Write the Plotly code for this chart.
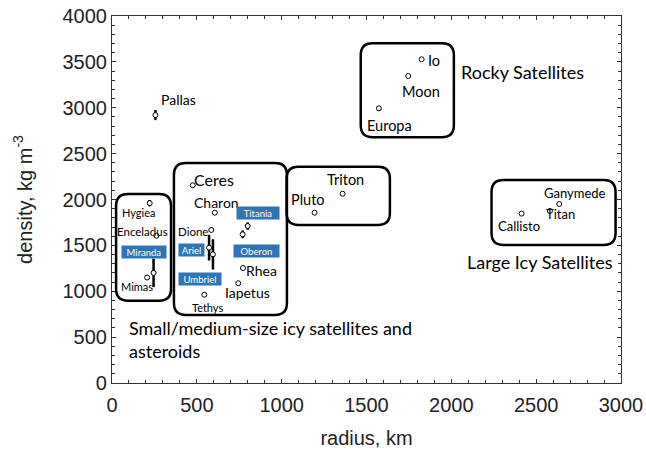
import plotly.graph_objects as go

# Bodies: mean radius (km), bulk density (kg m^-3), density uncertainty
names = ["Pallas", "Hygiea", "Enceladus", "Mimas", "Miranda",
         "Ceres", "Charon", "Dione", "Ariel", "Umbriel", "Titania", "Oberon",
         "Rhea", "Iapetus", "Tethys",
         "Triton", "Pluto",
         "Io", "Moon", "Europa",
         "Ganymede", "Titan", "Callisto"]
radius = [256, 222, 262, 207, 245,
          476, 606, 585, 572, 595, 800, 770,
          772, 744, 544,
          1359, 1194,
          1825, 1746, 1573,
          2636, 2581, 2414]
density = [2920, 1960, 1605, 1150, 1200,
           2155, 1856, 1668, 1475, 1402, 1711, 1620,
           1253, 1087, 962,
           2063, 1856,
           3528, 3346, 2994,
           1951, 1875, 1846]
density_err = [55, 35, 0, 0, 155,
               0, 0, 0, 140, 165, 40, 42,
               0, 0, 0,
               0, 0,
               0, 0, 0,
               0, 0, 0]

# Group outlines: (r_min, r_max, rho_min, rho_max)
group_boxes = [
    (24, 348, 897, 2060),
    (365, 1031, 741, 2398),
    (1029, 1638, 1722, 2357),
    (1466, 2015, 2678, 3702),
    (2237, 2968, 1504, 2213),
]

# Plain text labels: (text, r, rho, size)
text_labels = [
    ("Pallas", 389, 3085, 14),
    ("Hygiea", 159, 1853, 11),
    ("Enceladus", 177, 1646, 11.5),
    ("Mimas", 147, 1057, 11),
    ("Ceres", 601, 2213, 16),
    ("Charon", 613, 1962, 14),
    ("Dione", 477, 1646, 11.5),
    ("Rhea", 884, 1221, 14),
    ("Iapetus", 796, 981, 14),
    ("Tethys", 560, 828, 11),
    ("Triton", 1379, 2223, 14.5),
    ("Pluto", 1155, 2005, 14.5),
    ("Io", 1897, 3520, 14.5),
    ("Moon", 1821, 3172, 14.5),
    ("Europa", 1638, 2812, 14.5),
    ("Ganymede", 2728, 2071, 13),
    ("Titan", 2646, 1842, 13),
    ("Callisto", 2398, 1711, 13),
]

# Highlighted labels (white text on blue): (text, r, rho, box width px)
tag_labels = [
    ("Miranda", 189, 1428, 42),
    ("Titania", 860, 1853, 40),
    ("Ariel", 471, 1450, 23),
    ("Oberon", 854, 1439, 43),
    ("Umbriel", 519, 1134, 40),
]

# Group captions: (text, r, rho, anchor)
group_captions = [
    ("Rocky Satellites", 2045, 3390, "left"),
    ("Large Icy Satellites", 2522, 1319, "center"),
    ("Small/medium-size icy satellites and<br>asteroids", 88, 469, "left"),
]

LABEL_FONT = "Lato"
BLUE = "#2E75B6"

fig = go.Figure()

fig.add_trace(go.Scatter(
    x=radius, y=density, mode="markers",
    marker=dict(symbol="circle", size=5, color="white",
                line=dict(color="black", width=1)),
    error_y=dict(type="data", array=density_err, visible=True,
                 color="black", thickness=2.5, width=0),
    hovertext=names, showlegend=False,
))


def rounded_box(x0, x1, y0, y1, rx=70, ry=130):
    return (f"M {x0 + rx},{y0} L {x1 - rx},{y0} Q {x1},{y0} {x1},{y0 + ry} "
            f"L {x1},{y1 - ry} Q {x1},{y1} {x1 - rx},{y1} "
            f"L {x0 + rx},{y1} Q {x0},{y1} {x0},{y1 - ry} "
            f"L {x0},{y0 + ry} Q {x0},{y0} {x0 + rx},{y0} Z")


for (x0, x1, y0, y1) in group_boxes:
    fig.add_shape(type="path", path=rounded_box(x0, x1, y0, y1),
                  xref="x", yref="y", line=dict(color="black", width=2.5),
                  fillcolor="rgba(0,0,0,0)", layer="above")

for text, x, y, size in text_labels:
    fig.add_annotation(x=x, y=y, text=text, showarrow=False,
                       font=dict(family=LABEL_FONT, size=size, color="black"),
                       xanchor="center", yanchor="middle")

for text, x, y, w in tag_labels:
    fig.add_annotation(x=x, y=y, text=text, showarrow=False,
                       font=dict(family=LABEL_FONT, size=9.5, color="white"),
                       bgcolor=BLUE, borderpad=1, width=w, height=10,
                       xanchor="center", yanchor="middle")

for text, x, y, anchor in group_captions:
    fig.add_annotation(x=x, y=y, text=text, showarrow=False, align="left",
                       font=dict(family=LABEL_FONT, size=18, color="black"),
                       xanchor=anchor, yanchor="middle")

axis_common = dict(
    showgrid=False, zeroline=False, showline=True, linecolor="#333",
    linewidth=1.2, mirror="allticks", ticks="inside", ticklen=4,
    tickcolor="#333", tickwidth=1, automargin=False,
    tickfont=dict(family="Liberation Sans", size=20, color="#222"),
    minor=dict(ticks="inside", ticklen=2.5, tickcolor="#333", dtick=100,
               showgrid=False),
)

fig.update_xaxes(range=[0, 3000], dtick=500, ticklabelstandoff=4,
                 title=dict(text="radius, km", standoff=15,
                            font=dict(family="Liberation Sans", size=20, color="#222")),
                 **axis_common)
fig.update_yaxes(range=[0, 4000], dtick=500,
                 title=dict(text="density, kg m<sup>-3</sup>", standoff=24,
                            font=dict(family="Liberation Sans", size=20, color="#222")),
                 **axis_common)

fig.update_layout(
    width=646, height=450,
    margin=dict(l=112, r=25, t=16, b=67),
    plot_bgcolor="white", paper_bgcolor="white",
)

fig.write_html("out.html")
